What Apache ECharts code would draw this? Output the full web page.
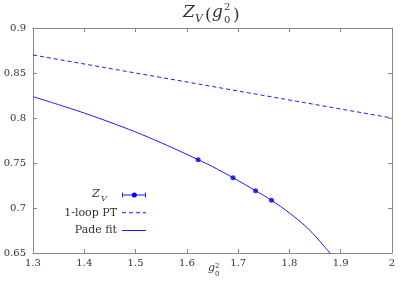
<!DOCTYPE html>
<html>
<head>
<meta charset="utf-8">
<script src="https://cdn.jsdelivr.net/npm/echarts@6/dist/echarts.min.js"></script>
<style>html,body{margin:0;padding:0;background:#fff}#c{width:407px;height:285px}</style>
</head>
<body>
<div id="c"></div>
<script>
// Data
const zvX = [1.622, 1.690, 1.734, 1.765];
const zvY = [0.7537, 0.7337, 0.7192, 0.7086];
const ptX = [1.3, 1.65, 2.0];
const ptY = [0.870, 0.835, 0.800];
const padeX = [1.3, 1.35, 1.4, 1.45, 1.5, 1.55, 1.6, 1.622, 1.65, 1.69, 1.734, 1.765, 1.8, 1.83, 1.85, 1.87, 1.879, 1.9];
const padeY = [0.8237, 0.8148, 0.8055, 0.7953, 0.7845, 0.7725, 0.7596, 0.7537, 0.746, 0.7337, 0.7192, 0.7086, 0.6945, 0.6805, 0.669, 0.656, 0.650, 0.636];
const xTicks = ['1.3', '1.4', '1.5', '1.6', '1.7', '1.8', '1.9', '2'];
const yTicks = ['0.65', '0.7', '0.75', '0.8', '0.85', '0.9'];

const zip = (a, b) => a.map((v, i) => [v, b[i]]);
const axisCol = '#888';
const txtCol = '#333';
const serif = 'DejaVu Serif';
const blue = '#1a1aff';

function axisBase(extra) {
  return Object.assign({
    axisLine: { show: true, lineStyle: { color: axisCol, width: 1 } },
    axisTick: { show: true, inside: true, length: 4, lineStyle: { color: axisCol } },
    splitLine: { show: false }
  }, extra);
}
const xCommon = { type: 'value', min: 1.3, max: 2.0, interval: 0.1 };
const yCommon = { type: 'value', min: 0.65, max: 0.9, interval: 0.05 };

function t(x, y, s, size, italic, font) {
  return { type: 'text', x: x, y: y, style: { text: s, font: (italic ? 'italic ' : '') + size + 'px "' + (font || serif) + '"', fill: txtCol, textAlign: 'left', textVerticalAlign: 'bottom' }, silent: true };
}

const chart = echarts.init(document.getElementById('c'), null, { renderer: 'canvas' });
chart.setOption({
  animation: false,
  backgroundColor: '#fff',
  grid: { left: 33, right: 15, top: 28, bottom: 32 },
  xAxis: [
    axisBase(Object.assign({}, xCommon, {
      position: 'bottom',
      axisLabel: { show: true, margin: 5, color: txtCol, fontFamily: serif, fontSize: 10,
        formatter: v => xTicks[Math.round((v - 1.3) / 0.1)] }
    })),
    axisBase(Object.assign({}, xCommon, { position: 'top', axisLabel: { show: false } }))
  ],
  yAxis: [
    axisBase(Object.assign({}, yCommon, {
      position: 'left',
      axisLabel: { show: true, margin: 7, color: txtCol, fontFamily: serif, fontSize: 10,
        formatter: v => yTicks[Math.round((v - 0.65) / 0.05)] }
    })),
    axisBase(Object.assign({}, yCommon, { position: 'right', axisLabel: { show: false } }))
  ],
  series: [
    { type: 'line', data: zip(ptX, ptY), showSymbol: false, lineStyle: { color: blue, width: 1, type: [4, 3] }, z: 2 },
    { type: 'line', data: zip(padeX, padeY), showSymbol: false, smooth: 0.3, clip: true, lineStyle: { color: blue, width: 1 }, z: 2 },
    { type: 'scatter', data: zip(zvX, zvY), symbol: 'circle', symbolSize: 5, itemStyle: { color: '#0000ee' }, z: 3 }
  ],
  graphic: [
    // title Z_V(g_0^2)
    t(183, 21, 'Z', 17, true),
    t(195, 25, 'V', 11, true),
    t(205, 24, '(', 17, false),
    t(212, 21, 'g', 17, true),
    t(224, 12, '2', 10, false),
    t(224, 25, '0', 10, false),
    t(233, 24, ')', 17, false),
    // x axis label g_0^2
    t(208, 274, 'g', 11, true),
    t(215, 270, '2', 7, false),
    t(215, 278, '0', 7, false),
    // legend
    t(92, 200, 'Z', 11, true),
    t(101, 203, 'V', 8, true),
    { type: 'text', x: 117, y: 212.7, style: { text: '1-loop PT', font: '11px "' + serif + '"', fill: txtCol, textAlign: 'right', textVerticalAlign: 'middle' }, silent: true },
    { type: 'text', x: 117, y: 230.5, style: { text: 'Pade fit', font: '11px "' + serif + '"', fill: txtCol, textAlign: 'right', textVerticalAlign: 'middle' }, silent: true },
    { type: 'line', shape: { x1: 122, y1: 195, x2: 146, y2: 195 }, style: { stroke: blue, lineWidth: 1 }, silent: true },
    { type: 'line', shape: { x1: 122.5, y1: 192.5, x2: 122.5, y2: 197.5 }, style: { stroke: blue, lineWidth: 1 }, silent: true },
    { type: 'line', shape: { x1: 145.5, y1: 192.5, x2: 145.5, y2: 197.5 }, style: { stroke: blue, lineWidth: 1 }, silent: true },
    { type: 'circle', shape: { cx: 134.3, cy: 195, r: 2.5 }, style: { fill: '#0000ee' }, silent: true },
    { type: 'line', shape: { x1: 122, y1: 212.7, x2: 146, y2: 212.7 }, style: { stroke: blue, lineWidth: 1, lineDash: [4, 3] }, silent: true },
    { type: 'line', shape: { x1: 122, y1: 230.5, x2: 146, y2: 230.5 }, style: { stroke: blue, lineWidth: 1 }, silent: true }
  ]
});
</script>
</body>
</html>
